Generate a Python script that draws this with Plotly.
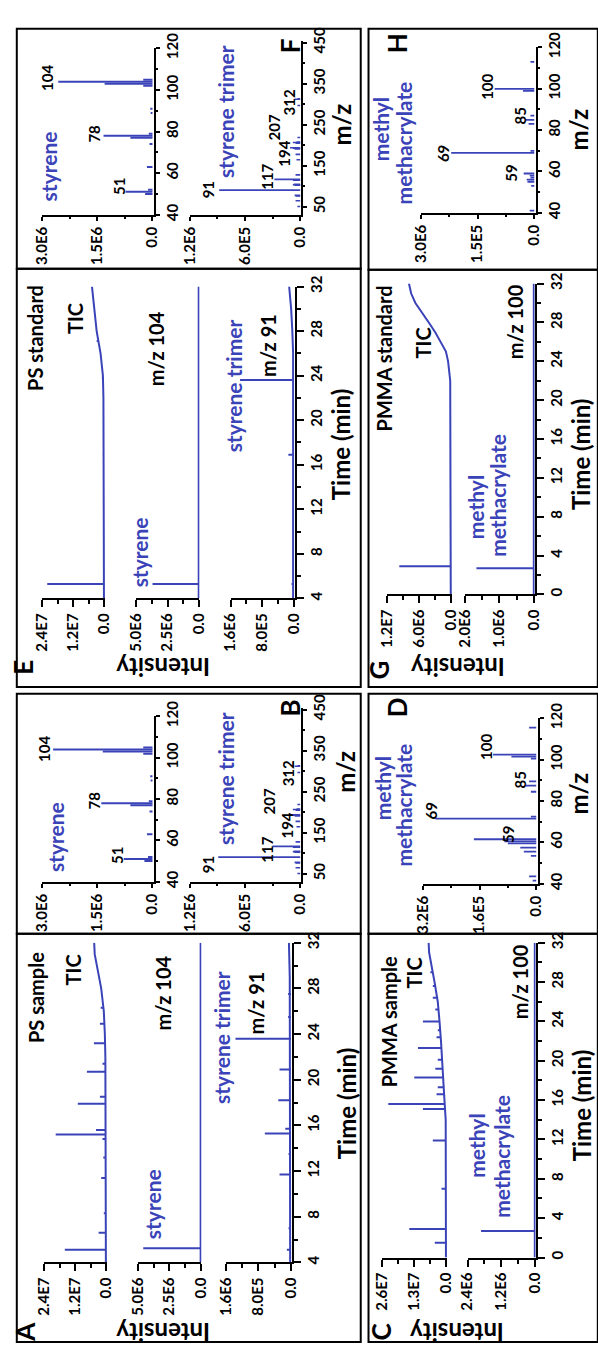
import plotly.graph_objects as go

W, H = 598, 1355
BLUE = '#3a43b8'
FONT = 'Lato, "Liberation Sans", Arial, sans-serif'

# ------------------------------------------------------------------ data
# --- A : PS sample (chromatograms, time in min) ---
A_TIC_base_t = [4, 12, 18, 22, 24, 26, 28, 30, 31, 32]
A_TIC_base_i = [0.02e7, 0.02e7, 0.03e7, 0.04e7, 0.06e7, 0.10e7, 0.20e7, 0.35e7, 0.45e7, 0.47e7]
A_TIC_pk_t = [5.1, 6.6, 8.3, 11.4, 13.2, 14.8, 15.2, 15.6, 17.9, 18.5, 20.7, 21.4, 23.2, 24.9, 26.3]
A_TIC_pk_foot = [0.02e7, 0.02e7, 0.02e7, 0.02e7, 0.02e7, 0.03e7, 0.03e7, 0.03e7, 0.03e7, 0.03e7,
                 0.04e7, 0.04e7, 0.05e7, 0.08e7, 0.12e7]
A_TIC_pk_top = [1.60e7, 0.30e7, 0.10e7, 0.20e7, 0.12e7, 0.15e7, 1.95e7, 0.40e7, 1.10e7, 0.25e7,
                0.75e7, 0.15e7, 0.48e7, 0.25e7, 0.22e7]
A_104_base_t = [4, 32]
A_104_base_i = [0.0, 0.0]
A_104_pk_t = [5.25]
A_104_pk_top = [4.6e6]
A_91_base_t = [4, 26, 29, 32]
A_91_base_i = [0.02e6, 0.02e6, 0.03e6, 0.05e6]
A_91_pk_t = [5.1, 7.0, 11.7, 13.5, 15.3, 15.7, 18.2, 20.9, 23.6, 25.5, 27.5]
A_91_pk_top = [0.10e6, 0.06e6, 0.28e6, 0.06e6, 0.64e6, 0.14e6, 0.31e6, 0.28e6, 1.36e6, 0.07e6, 0.07e6]

# --- E : PS standard ---
E_TIC_base_t = [4, 12, 20, 22, 24, 26, 28, 30, 31, 32]
E_TIC_base_i = [0.02e7, 0.02e7, 0.03e7, 0.04e7, 0.06e7, 0.15e7, 0.30e7, 0.40e7, 0.45e7, 0.48e7]
E_TIC_pk_t = [5.3, 16.9, 23.8, 27.1]
E_TIC_pk_foot = [0.02e7, 0.03e7, 0.06e7, 0.25e7]
E_TIC_pk_top = [2.20e7, 0.06e7, 0.10e7, 0.30e7]
E_104_base_t = [4, 32]
E_104_base_i = [0.0, 0.0]
E_104_pk_t = [5.3]
E_104_pk_top = [3.7e6]
E_91_base_t = [4, 26, 28, 30, 32]
E_91_base_i = [0.02e6, 0.02e6, 0.04e6, 0.07e6, 0.12e6]
E_91_pk_t = [5.3, 16.9, 23.6]
E_91_pk_top = [0.06e6, 0.14e6, 1.36e6]

# --- C : PMMA sample ---
C_TIC_base_t = [0, 14, 16, 18, 20, 22, 24, 26, 28, 30, 31, 32]
C_TIC_base_i = [0.02e7, 0.03e7, 0.08e7, 0.12e7, 0.17e7, 0.22e7, 0.28e7, 0.35e7, 0.48e7, 0.62e7, 0.70e7, 0.72e7]
C_TIC_pk_t = [1.5, 2.9, 7.0, 11.9, 15.1, 15.6, 16.6, 17.3, 18.3, 19.2, 20.1, 21.3, 22.4, 23.1,
              24.0, 25.2, 26.4, 27.6, 29.0]
C_TIC_pk_foot = [0.02e7, 0.02e7, 0.02e7, 0.03e7, 0.05e7, 0.07e7, 0.09e7, 0.11e7, 0.12e7, 0.15e7,
                 0.17e7, 0.20e7, 0.22e7, 0.25e7, 0.28e7, 0.31e7, 0.36e7, 0.42e7, 0.55e7]
C_TIC_pk_top = [0.47e7, 1.50e7, 0.20e7, 0.55e7, 0.95e7, 2.35e7, 0.40e7, 0.35e7, 1.30e7, 0.45e7,
                0.35e7, 1.15e7, 0.40e7, 0.35e7, 0.95e7, 0.45e7, 0.55e7, 0.55e7, 0.65e7]
C_100_base_t = [0, 32]
C_100_base_i = [0.0, 0.0]
C_100_pk_t = [2.7]
C_100_pk_top = [1.92e6]

# --- G : PMMA standard ---
G_TIC_base_t = [0, 20, 22, 24, 25, 26, 27, 28, 29, 30, 31, 32]
G_TIC_base_i = [0.01e7, 0.01e7, 0.02e7, 0.06e7, 0.10e7, 0.20e7, 0.30e7, 0.42e7, 0.55e7, 0.67e7, 0.75e7, 0.79e7]
G_TIC_pk_t = [2.9]
G_TIC_pk_foot = [0.01e7]
G_TIC_pk_top = [0.97e7]
G_100_base_t = [0, 32]
G_100_base_i = [0.0, 0.0]
G_100_pk_t = [2.7]
G_100_pk_top = [1.66e6]

# --- mass spectra (m/z, intensity) ---
B_sty_mz = [50, 51, 52, 63, 74, 77, 78, 79, 89, 91, 102, 103, 104, 105]
B_sty_int = [0.22e6, 0.78e6, 0.12e6, 0.15e6, 0.08e6, 0.60e6, 1.39e6, 0.10e6, 0.05e6, 0.06e6,
             0.25e6, 1.35e6, 2.70e6, 0.25e6]
F_sty_mz = [50, 51, 52, 63, 74, 77, 78, 79, 89, 91, 102, 103, 104, 105]
F_sty_int = [0.20e6, 0.73e6, 0.12e6, 0.15e6, 0.08e6, 0.60e6, 1.33e6, 0.10e6, 0.05e6, 0.06e6,
             0.25e6, 1.30e6, 2.56e6, 0.25e6]
B_tri_mz = [51, 65, 77, 78, 91, 103, 104, 105, 115, 117, 128, 165, 178, 191, 193, 194, 205, 207,
            208, 219, 297, 312, 313]
B_tri_int = [0.03e6, 0.05e6, 0.05e6, 0.06e6, 0.89e6, 0.06e6, 0.08e6, 0.07e6, 0.08e6, 0.30e6,
             0.05e6, 0.04e6, 0.05e6, 0.06e6, 0.08e6, 0.11e6, 0.05e6, 0.08e6, 0.04e6, 0.03e6,
             0.03e6, 0.06e6, 0.03e6]
F_tri_mz = [51, 65, 77, 78, 91, 103, 104, 105, 115, 117, 128, 165, 178, 191, 193, 194, 205, 207,
            208, 219, 297, 312, 313]
F_tri_int = [0.03e6, 0.05e6, 0.05e6, 0.06e6, 0.88e6, 0.06e6, 0.08e6, 0.07e6, 0.08e6, 0.28e6,
             0.05e6, 0.04e6, 0.05e6, 0.06e6, 0.08e6, 0.11e6, 0.05e6, 0.08e6, 0.04e6, 0.03e6,
             0.03e6, 0.06e6, 0.03e6]
D_mz = [41.5, 43.5, 53.5, 55.5, 57.5, 59.5, 60.5, 61.5, 71.5, 72.5,
        84.5, 87.5, 89.5, 100.5, 101.5, 102.5, 115.5]
D_int = [0.10e6, 0.20e6, 0.15e6, 0.35e6, 0.45e6, 0.80e6, 0.90e6, 1.76e6, 2.85e6, 0.15e6,
         0.15e6, 0.30e6, 0.20e6, 0.15e6, 0.70e6, 1.22e6, 0.20e6]
H_mz = [39, 41, 53, 55, 56, 57, 58, 59, 69, 70, 83, 85, 87, 99, 100, 113]
H_int = [0.08e6, 0.12e6, 0.08e6, 0.18e6, 0.20e6, 0.10e6, 0.12e6, 0.28e6, 2.20e6, 0.10e6, 0.15e6,
         0.25e6, 0.10e6, 0.30e6, 1.05e6, 0.10e6]

# --- tick labels ---
T_TICKS_AE = [4, 8, 12, 16, 20, 24, 28, 32]
T_TICKS_CG = [0, 4, 8, 12, 16, 20, 24, 28, 32]
MZ_STY_TICKS = [40, 60, 80, 100, 120]
MZ_TRI_TICKS = [50, 150, 250, 350, 450]
I_TIC_A = ([0, 1.2e7, 2.4e7], ['0.0', '1.2E7', '2.4E7'])
I_104 = ([0, 2.5e6, 5.0e6], ['0.0', '2.5E6', '5.0E6'])
I_91 = ([0, 8.0e5, 1.6e6], ['0.0', '8.0E5', '1.6E6'])
I_TIC_C = ([0, 1.3e7, 2.6e7], ['0.0', '1.3E7', '2.6E7'])
I_100_C = ([0, 1.2e6, 2.4e6], ['0.0', '1.2E6', '2.4E6'])
I_TIC_G = ([0, 6.0e6, 1.2e7], ['0.0', '6.0E6', '1.2E7'])
I_100_G = ([0, 1.0e6, 2.0e6], ['0.0', '1.0E6', '2.0E6'])
I_STY = ([0, 1.5e6, 3.0e6], ['0.0', '1.5E6', '3.0E6'])
I_TRI = ([0, 6.0e5, 1.2e6], ['0.0', '6.0E5', '1.2E6'])
I_D = ([0, 1.6e6, 3.2e6], ['0.0', '1.6E5', '3.2E6'])
I_H = ([0, 1.5e6, 3.0e6], ['0.0', '1.5E5', '3.0E6'])


# ------------------------------------------------------------------ helpers
def X(p):
    return p / W


def Y(p):
    return 1 - p / H


fig = go.Figure()
layout = dict(width=W, height=H, margin=dict(l=0, r=0, t=0, b=0, pad=0),
              paper_bgcolor='white', plot_bgcolor='rgba(0,0,0,0)', showlegend=False,
              font=dict(family=FONT, color='black'))
TICKFONT = dict(family=FONT, size=15, color='black', weight='bold')
count = [0]


def new_sub(xpx, ypy, xmax, xticks, xminor, yrange, yticks=None, yminor=None, show_y=False, tl=7):
    count[0] += 1
    s = '' if count[0] == 1 else str(count[0])
    xa = dict(domain=[X(xpx[0]), X(xpx[1])], range=[xmax, -0.012 * xmax], anchor='y' + s,
              side='bottom', showline=True, linecolor='black', linewidth=2,
              ticks='outside', ticklen=tl, tickwidth=2, tickcolor='black',
              tickmode='array', tickvals=xticks[0], ticktext=xticks[1], tickangle=-90,
              tickfont=TICKFONT, showgrid=False, zeroline=False, fixedrange=True,
              minor=dict(ticks='outside', tickmode='linear', tick0=0, dtick=xminor,
                         ticklen=max(tl - 3, 2), tickwidth=1.5, tickcolor='black', showgrid=False))
    ya = dict(domain=[Y(ypy[0]), Y(ypy[1])], range=yrange, anchor='x' + s,
              showgrid=False, zeroline=False, fixedrange=True)
    if show_y:
        ya.update(side='right', showline=True, linecolor='black', linewidth=2,
                  ticks='outside', ticklen=tl, tickwidth=2, tickcolor='black',
                  tickmode='array', tickvals=yticks, ticktext=[str(v) for v in yticks],
                  tickangle=-90, tickfont=TICKFONT, layer='below traces',
                  minor=dict(ticks='outside', tickmode='linear', tick0=0, dtick=yminor,
                             ticklen=max(tl - 3, 2), tickwidth=1.5, tickcolor='black',
                             showgrid=False))
    else:
        ya.update(visible=False)
    layout['xaxis' + s] = xa
    layout['yaxis' + s] = ya
    return 'x' + s, 'y' + s


def add_line(ax, xs, ys):
    fig.add_trace(go.Scatter(x=xs, y=ys, xaxis=ax[0], yaxis=ax[1], mode='lines',
                             line=dict(color=BLUE, width=2), hoverinfo='skip'))


def add_sticks(ax, pos, top, foot=None, width=2):
    xs, ys = [], []
    for k, p in enumerate(pos):
        f = 0 if foot is None else foot[k]
        xs += [f, top[k], None]
        ys += [p, p, None]
    fig.add_trace(go.Scatter(x=xs, y=ys, xaxis=ax[0], yaxis=ax[1], mode='lines',
                             line=dict(color=BLUE, width=width), hoverinfo='skip'))


# ------------------------------------------------------------------ chromatograms
# A
a1 = new_sub((35, 100), (1267, 942), 2.4e7, I_TIC_A, 0.6e7, [4, 32])
add_line(a1, A_TIC_base_i, A_TIC_base_t)
add_sticks(a1, A_TIC_pk_t, A_TIC_pk_top, A_TIC_pk_foot)
a2 = new_sub((132, 197), (1267, 942), 5.0e6, I_104, 1.25e6, [4, 32])
add_line(a2, A_104_base_i, A_104_base_t)
add_sticks(a2, A_104_pk_t, A_104_pk_top)
a3 = new_sub((222, 290), (1267, 942), 1.6e6, I_91, 4e5, [4, 32], T_TICKS_AE, 2, True)
add_line(a3, A_91_base_i, A_91_base_t)
add_sticks(a3, A_91_pk_t, A_91_pk_top)
# E
e1 = new_sub((33, 98), (592, 275), 2.4e7, I_TIC_A, 0.6e7, [4, 32])
add_line(e1, E_TIC_base_i, E_TIC_base_t)
add_sticks(e1, E_TIC_pk_t, E_TIC_pk_top, E_TIC_pk_foot)
e2 = new_sub((130, 195), (592, 275), 5.0e6, I_104, 1.25e6, [4, 32])
add_line(e2, E_104_base_i, E_104_base_t)
add_sticks(e2, E_104_pk_t, E_104_pk_top)
e3 = new_sub((227, 293), (592, 275), 1.6e6, I_91, 4e5, [4, 32], T_TICKS_AE, 2, True)
add_line(e3, E_91_base_i, E_91_base_t)
add_sticks(e3, E_91_pk_t, E_91_pk_top)
# C
c1 = new_sub((383, 450), (1262, 942), 2.6e7, I_TIC_C, 0.65e7, [0, 32])
add_line(c1, C_TIC_base_i, C_TIC_base_t)
add_sticks(c1, C_TIC_pk_t, C_TIC_pk_top, C_TIC_pk_foot)
c2 = new_sub((471, 541), (1262, 942), 2.4e6, I_100_C, 0.6e6, [0, 32], T_TICKS_CG, 2, True)
add_line(c2, C_100_base_i, C_100_base_t)
add_sticks(c2, C_100_pk_t, C_100_pk_top)
# G
g1 = new_sub((388, 455), (588, 272), 1.2e7, I_TIC_G, 3e6, [0, 32])
add_line(g1, G_TIC_base_i, G_TIC_base_t)
add_sticks(g1, G_TIC_pk_t, G_TIC_pk_top, G_TIC_pk_foot)
g2 = new_sub((468, 540), (588, 272), 2.0e6, I_100_G, 0.5e6, [0, 32], T_TICKS_CG, 2, True)
add_line(g2, G_100_base_i, G_100_base_t)
add_sticks(g2, G_100_pk_t, G_100_pk_top)

# ------------------------------------------------------------------ spectra
b1 = new_sub((33, 148), (880, 712), 3.0e6, I_STY, 0.75e6, [40, 120], MZ_STY_TICKS, 10, True, 4)
add_sticks(b1, B_sty_mz, B_sty_int)
b2 = new_sub((185, 300), (880, 703), 1.2e6, I_TRI, 3e5, [31, 455], MZ_TRI_TICKS, 50, True, 4)
add_sticks(b2, B_tri_mz, B_tri_int, width=1.6)
f1 = new_sub((33, 148), (202, 33), 3.0e6, I_STY, 0.75e6, [40, 120], MZ_STY_TICKS, 10, True, 4)
add_sticks(f1, F_sty_mz, F_sty_int)
f2 = new_sub((185, 300), (202, 25), 1.2e6, I_TRI, 3e5, [31, 455], MZ_TRI_TICKS, 50, True, 4)
add_sticks(f2, F_tri_mz, F_tri_int, width=1.6)
d1 = new_sub((425, 543), (882, 714), 3.2e6, I_D, 0.8e6, [40, 120], MZ_STY_TICKS, 10, True, 4)
add_sticks(d1, D_mz, D_int, width=1.8)
h1 = new_sub((423, 541), (200, 32), 3.0e6, I_H, 0.75e6, [40, 120], MZ_STY_TICKS, 10, True, 4)
add_sticks(h1, H_mz, H_int, width=1.8)

# ------------------------------------------------------------------ frames
shapes = []
for (x0, y0, x1, y1) in [(7, 13, 361, 257), (7, 257, 361, 682), (7, 689, 361, 933),
                         (7, 933, 361, 1348), (369, 13, 605, 258), (369, 258, 605, 682),
                         (369, 689, 605, 933), (369, 933, 605, 1348)]:
    shapes.append(dict(type='rect', xref='paper', yref='paper', x0=X(x0), x1=X(x1),
                       y0=Y(y1), y1=Y(y0), line=dict(color='black', width=2)))
layout['shapes'] = shapes

# ------------------------------------------------------------------ text
ann = []


def txt(t, x, y, size, color='black', angle=-90):
    ann.append(dict(text=t, x=X(x), y=Y(y), xref='paper', yref='paper', showarrow=False,
                    textangle=angle, xanchor='center', yanchor='middle',
                    font=dict(family=FONT, size=size, color=color, weight='bold')))


# panel letters
for t, x, y in [('A', 16, 1338), ('B', 288, 703), ('C', 382, 1338), ('D', 398, 703),
                ('E', 14, 662), ('F', 288, 30), ('G', 380, 665), ('H', 398, 28)]:
    txt(t, x, y, 26)
# black trace labels
for t, x, y in [('PS sample', 27, 998), ('TIC', 65, 970), ('m/z 104', 157, 993), ('m/z 91', 253, 1003),
                ('PS standard', 25, 327), ('TIC', 67, 308), ('m/z 104', 150, 338), ('m/z 91', 265, 335),
                ('PMMA sample', 390, 1022), ('TIC', 416, 973), ('m/z 100', 525, 982),
                ('PMMA standard', 385, 348), ('TIC', 425, 332), ('m/z 100', 520, 311)]:
    txt(t, x, y, 20)
# blue compound labels
for t, x, y in [('styrene', 147, 1208), ('styrene trimer', 217, 1038),
                ('styrene', 133, 545), ('styrene trimer', 230, 376),
                ('methyl', 480, 1148), ('methacrylate', 506, 1159),
                ('methyl', 480, 499), ('methacrylate', 501, 487),
                ('styrene', 47, 835), ('styrene trimer', 222, 775),
                ('styrene', 40, 153), ('styrene trimer', 222, 97),
                ('methyl', 383, 785), ('methacrylate', 405, 802),
                ('methyl', 381, 115), ('methacrylate', 405, 129)]:
    txt(t, x, y, 21, BLUE)
# peak labels
for t, x, y in [('51', 110, 853), ('78', 87, 798), ('104', 35, 745), ('91', 204, 863),
                ('117', 265, 847), ('194', 285, 823), ('207', 267, 798), ('312', 287, 770),
                ('51', 112, 173), ('78', 87, 120), ('104', 38, 63), ('91', 204, 177),
                ('117', 265, 163), ('194', 282, 140), ('207', 272, 113), ('312', 287, 88),
                ('69', 433, 808), ('59', 513, 832), ('85', 525, 777), ('100', 490, 743),
                ('69', 445, 140), ('59', 516, 160), ('85', 525, 102), ('100', 491, 72)]:
    txt(t, x, y, 15)
# axis titles
for x, y in [(346, 1105), (341, 435), (588, 1107), (587, 445)]:
    txt('Time (min)', x, y, 24)
for x, y in [(158, 1338), (158, 663), (460, 1338), (461, 663)]:
    txt('Intensity', x, y, 24, angle=180)
for x, y in [(345, 768), (341, 110), (585, 790), (585, 115)]:
    txt('m/z', x, y, 24)
layout['annotations'] = ann

fig.update_layout(**layout)
fig.write_html('out.html')
